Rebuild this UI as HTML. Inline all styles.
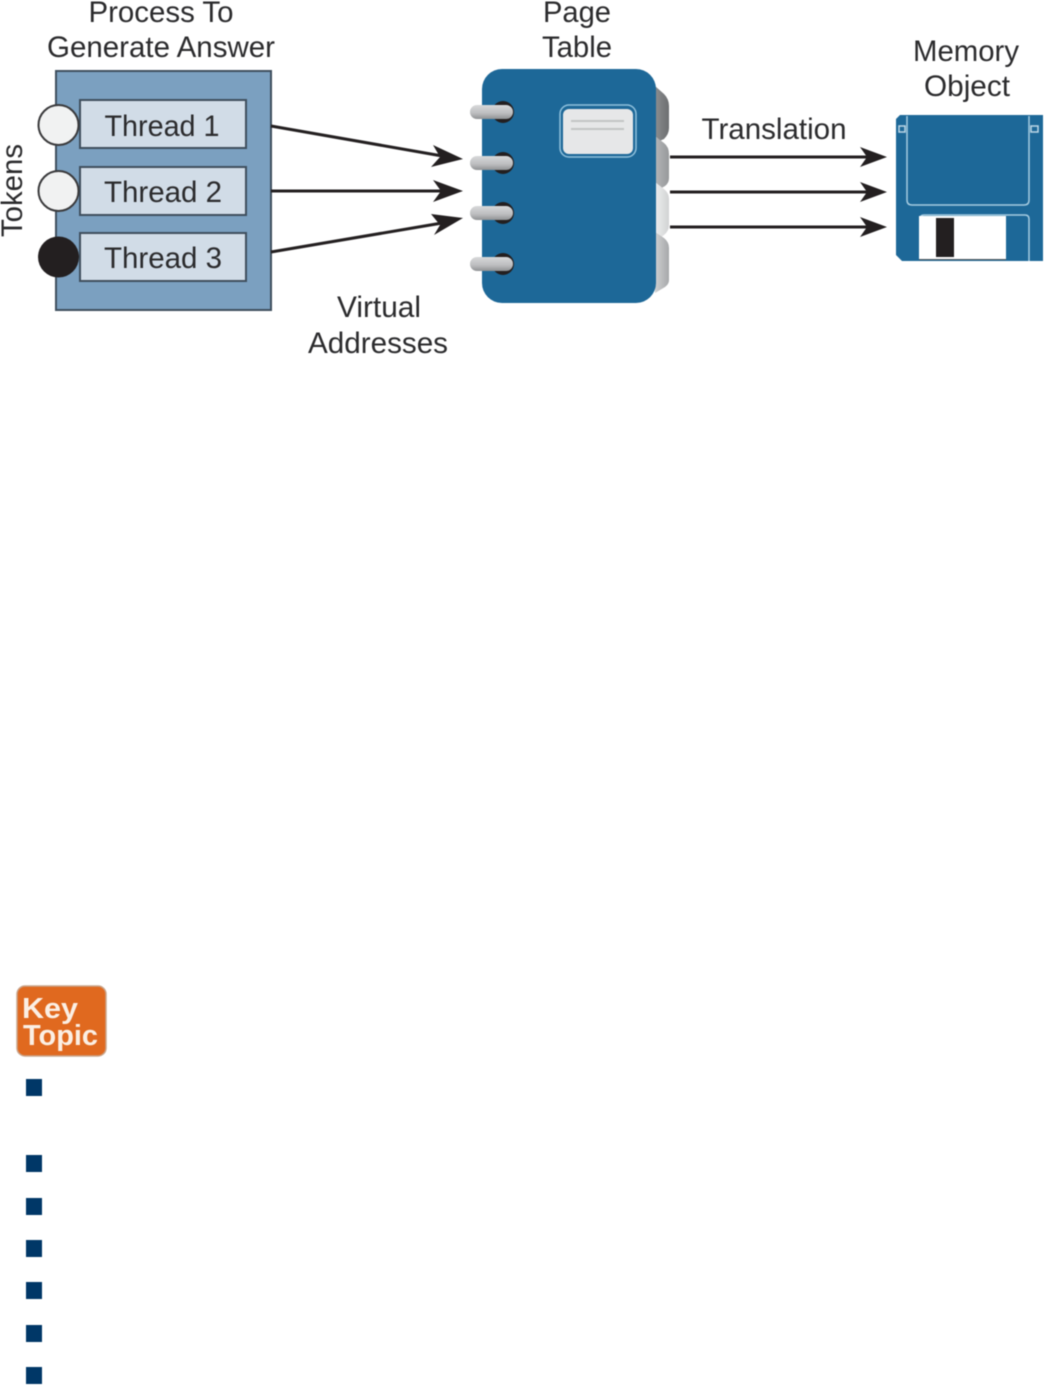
<!DOCTYPE html>
<html>
<head>
<meta charset="utf-8">
<style>
html,body{margin:0;padding:0;background:#fff;width:1045px;height:1385px;overflow:hidden}
svg{display:block;position:absolute;left:0;top:0;filter:blur(0.5px)}
text{font-family:"Liberation Sans",sans-serif;fill:#2b2b2d;font-size:30px}
</style>
</head>
<body>
<svg width="1045" height="1385" viewBox="0 0 1045 1385" xmlns="http://www.w3.org/2000/svg">
<defs>
<linearGradient id="ring" x1="0" y1="0" x2="0" y2="1"><stop offset="0" stop-color="#d8d9da"/><stop offset=".6" stop-color="#bcbdbf"/><stop offset="1" stop-color="#8f9193"/></linearGradient>
<linearGradient id="t1" x1="0" y1="0" x2="1" y2="0"><stop offset="0" stop-color="#8b8d8f"/><stop offset="1" stop-color="#6d6f71"/></linearGradient>
<linearGradient id="t2" x1="0" y1="0" x2="1" y2="0"><stop offset="0" stop-color="#b5b6b8"/><stop offset="1" stop-color="#97999b"/></linearGradient>
<linearGradient id="t3" x1="0" y1="0" x2="1" y2="0"><stop offset="0" stop-color="#eeeeef"/><stop offset="1" stop-color="#d2d3d4"/></linearGradient>
<linearGradient id="t4" x1="0" y1="0" x2="1" y2="0"><stop offset="0" stop-color="#cfd0d1"/><stop offset="1" stop-color="#a6a8aa"/></linearGradient>
</defs>

<!-- Process -->
<text x="161" y="22" text-anchor="middle" textLength="145" lengthAdjust="spacingAndGlyphs">Process To</text>
<text x="161" y="57" text-anchor="middle" textLength="228" lengthAdjust="spacingAndGlyphs">Generate Answer</text>
<rect x="56" y="71" width="215" height="239" fill="#7ba0c0" stroke="#3f4f5e" stroke-width="2"/>
<g fill="#d1dce7" stroke="#3f4f5e" stroke-width="2">
<rect x="80" y="100" width="166" height="48"/>
<rect x="80" y="167" width="166" height="48"/>
<rect x="80" y="233" width="166" height="48"/>
</g>
<text x="162" y="136" text-anchor="middle" textLength="115" lengthAdjust="spacingAndGlyphs">Thread 1</text>
<text x="163" y="202" text-anchor="middle" textLength="118" lengthAdjust="spacingAndGlyphs">Thread 2</text>
<text x="163" y="268" text-anchor="middle" textLength="118" lengthAdjust="spacingAndGlyphs">Thread 3</text>
<circle cx="58.500" cy="125" r="20" fill="#f1f2f2" stroke="#3a3a3c" stroke-width="2"/>
<circle cx="58.500" cy="191" r="20" fill="#f1f2f2" stroke="#3a3a3c" stroke-width="2"/>
<circle cx="58.500" cy="257" r="20.500" fill="#231f20"/>
<text transform="translate(22,237) rotate(-90)" textLength="93" lengthAdjust="spacingAndGlyphs">Tokens</text>

<!-- Left arrows -->
<g stroke="#231f20" stroke-width="3" fill="none">
<line x1="271" y1="126" x2="448" y2="157"/>
<line x1="271" y1="191" x2="448" y2="191"/>
<line x1="271" y1="252" x2="448" y2="222"/>
</g>
<g fill="#231f20">
<polygon points="463,159 433,145 440,157 431,167"/>
<polygon points="463,191 433,180 441,191 433,202"/>
<polygon points="463,218 431,214 440,225 434,235"/>
</g>
<text x="379" y="317" text-anchor="middle" textLength="84" lengthAdjust="spacingAndGlyphs">Virtual</text>
<text x="378" y="353" text-anchor="middle" textLength="140" lengthAdjust="spacingAndGlyphs">Addresses</text>

<!-- Notebook -->
<text x="577" y="22" text-anchor="middle" textLength="68" lengthAdjust="spacingAndGlyphs">Page</text>
<text x="577" y="57" text-anchor="middle" textLength="70" lengthAdjust="spacingAndGlyphs">Table</text>
<path d="M655,86 L664,94 Q669,99 669,106 L669,128 Q669,134 664,139 L655,143 Z" fill="url(#t1)"/>
<path d="M655,136 L664,143 Q669,147 669,154 L669,178 Q669,183 665,186 L655,192 Z" fill="url(#t2)"/>
<path d="M655,182 L664,189 Q669,193 669,199 L669,225 Q669,231 664,235 L655,242 Z" fill="url(#t3)"/>
<path d="M655,232 L664,238 Q669,242 669,248 L669,280 Q669,284 665,287 L655,293 Z" fill="url(#t4)"/>
<rect x="482" y="69" width="174" height="234" rx="20" ry="20" fill="#1d6898"/>
<g fill="#231f20">
<circle cx="503" cy="112" r="11"/><circle cx="503" cy="163" r="11"/><circle cx="503" cy="213" r="11"/><circle cx="503" cy="264" r="11"/>
</g>
<g fill="url(#ring)">
<rect x="470" y="105" width="43" height="14" rx="7"/>
<rect x="470" y="156" width="43" height="14" rx="7"/>
<rect x="470" y="206" width="43" height="14" rx="7"/>
<rect x="470" y="257" width="43" height="14" rx="7"/>
</g>
<rect x="560" y="105" width="76" height="52" rx="9" fill="none" stroke="#8fc0dc" stroke-width="1.500"/>
<rect x="563" y="109" width="70" height="45" rx="6" fill="#e6e7e8"/>
<line x1="571" y1="121" x2="624" y2="121" stroke="#c2c4c5" stroke-width="2"/>
<line x1="571" y1="129" x2="624" y2="129" stroke="#c2c4c5" stroke-width="2"/>

<!-- Right arrows -->
<text x="774" y="139" text-anchor="middle" textLength="145" lengthAdjust="spacingAndGlyphs">Translation</text>
<g stroke="#231f20" stroke-width="3">
<line x1="670" y1="157" x2="872" y2="157"/>
<line x1="670" y1="192" x2="872" y2="192"/>
<line x1="670" y1="227" x2="872" y2="227"/>
</g>
<g fill="#231f20">
<polygon points="887,157 860,147 867,157 860,167"/>
<polygon points="887,192 860,182 867,192 860,202"/>
<polygon points="887,227 860,217 867,227 860,237"/>
</g>

<!-- Floppy -->
<text x="966" y="61" text-anchor="middle" textLength="106" lengthAdjust="spacingAndGlyphs">Memory</text>
<text x="967" y="96" text-anchor="middle" textLength="86" lengthAdjust="spacingAndGlyphs">Object</text>
<path d="M900,115 L1043,115 L1043,261 L902,261 L896,255 L896,119 Z" fill="#1d6898"/>
<path d="M907,116 L907,200 Q907,205 912,205 L1024,205 Q1029,205 1029,200 L1029,116" fill="none" stroke="#a5cbe0" stroke-width="1.500"/>
<path d="M920,260 L920,219 Q920,215 924,215 L1025,215 Q1029,215 1029,219 L1029,261" fill="none" stroke="#a5cbe0" stroke-width="1.500"/>
<rect x="919" y="216" width="87" height="44" fill="#fff"/>
<line x1="919" y1="259.500" x2="1006" y2="259.500" stroke="#55595c" stroke-width="1"/>
<rect x="936" y="218" width="18" height="39" fill="#231f20"/>
<rect x="899" y="126" width="6" height="6" fill="#1d6898" stroke="#bcd6e6" stroke-width="1.500"/>
<rect x="1031" y="126" width="7" height="6" fill="#1d6898" stroke="#bcd6e6" stroke-width="1.500"/>

<!-- Key Topic -->
<rect x="17" y="986" width="89" height="70" rx="8" fill="#e0691f" stroke="#c9a58c" stroke-width="1.500"/>
<text x="22" y="1018" style="font-size:29px;font-weight:bold;fill:#fbefe4" textLength="56" lengthAdjust="spacingAndGlyphs">Key</text>
<text x="23" y="1045" style="font-size:29px;font-weight:bold;fill:#fbefe4" textLength="75" lengthAdjust="spacingAndGlyphs">Topic</text>

<!-- Bullets -->
<g fill="#003767">
<rect x="26" y="1079" width="16" height="17"/>
<rect x="26" y="1155" width="16" height="17"/>
<rect x="26" y="1198" width="16" height="17"/>
<rect x="26" y="1240" width="16" height="17"/>
<rect x="26" y="1282" width="16" height="17"/>
<rect x="26" y="1325" width="16" height="17"/>
<rect x="26" y="1367" width="16" height="17"/>
</g>
</svg>
</body>
</html>
